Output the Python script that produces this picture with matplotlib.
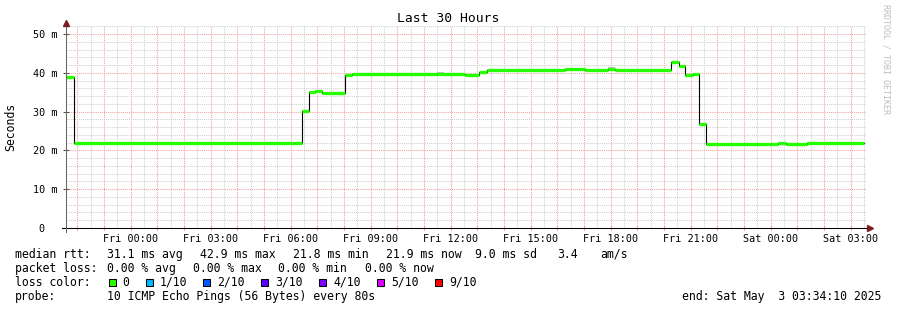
import matplotlib

matplotlib.use("Agg")
import matplotlib.pyplot as plt
import matplotlib.dates as mdates
from matplotlib.patches import Rectangle
from matplotlib.ticker import FixedLocator, FuncFormatter
import pandas as pd

# ---------------------------------------------------------------------------
# Data (median rtt in ms, step segments)
# ---------------------------------------------------------------------------
seg_start = [
    "2025-05-01 21:34", "2025-05-01 21:52", "2025-05-02 06:10", "2025-05-02 06:25",
    "2025-05-02 06:41", "2025-05-02 06:54", "2025-05-02 07:10", "2025-05-02 08:01",
    "2025-05-02 08:18", "2025-05-02 11:29", "2025-05-02 12:32", "2025-05-02 13:03",
    "2025-05-02 13:21", "2025-05-02 16:17", "2025-05-02 17:02", "2025-05-02 17:53",
    "2025-05-02 18:09", "2025-05-02 20:16", "2025-05-02 20:33", "2025-05-02 20:47",
    "2025-05-02 21:05", "2025-05-02 21:19", "2025-05-02 21:35", "2025-05-02 23:58",
    "2025-05-03 00:16", "2025-05-03 00:34", "2025-05-03 01:21",
]
median_ms = [
    39.0, 21.8, 21.9, 30.3,
    35.1, 35.4, 34.9, 39.4,
    39.7, 39.8, 39.5, 40.2,
    40.8, 41.0, 40.8, 41.0,
    40.8, 42.9, 41.9, 39.5,
    39.8, 26.8, 21.7, 21.6,
    22.0, 21.6, 21.8,
]
line_end = "2025-05-03 03:29"

# a little visible smoke above the median
smoke_start = ["2025-05-02 11:29", "2025-05-02 17:53"]
smoke_end = ["2025-05-02 11:44", "2025-05-02 18:09"]
smoke_top = [40.3, 41.4]

t_start = "2025-05-01 21:34:10"
t_end = "2025-05-03 03:34:10"

title = "Last 30 Hours"
rtt_stats = ["31.1 ms avg", "42.9 ms max", "21.8 ms min", "21.9 ms now", "9.0 ms sd", "3.4", "am/s"]
loss_stats = ["0.00 % avg", "0.00 % max", "0.00 % min", "0.00 % now"]
loss_labels = ["0", "1/10", "2/10", "3/10", "4/10", "5/10", "9/10"]
loss_colors = ["#26ff00", "#00b8ff", "#0059ff", "#5e00ff", "#7e00ff", "#dd00ff", "#ff0000"]
probe_text = "10 ICMP Echo Pings (56 Bytes) every 80s"
end_text = "end: Sat May  3 03:34:10 2025"

# ---------------------------------------------------------------------------
# Figure
# ---------------------------------------------------------------------------
W, H = 897, 310
plt.rcParams["font.family"] = ["DejaVu Sans Mono", "DejaVu Sans"]


def fx(x):
    return x / W


def fy(y):
    return 1 - y / H


def num(ts):
    return mdates.date2num(pd.Timestamp(ts).to_pydatetime())


fig = plt.figure(figsize=(W / 100, H / 100), dpi=100)
fig.patch.set_facecolor("white")
ax = fig.add_axes([fx(66), fy(228), 800 / W, 202 / H])
ax.set_facecolor("white")

starts = [num(s) for s in seg_start]
ends = starts[1:] + [num(line_end)]

# smoke
for s0, s1, top in zip(smoke_start, smoke_end, smoke_top):
    x0, x1 = num(s0), num(s1)
    i = max(j for j in range(len(starts)) if starts[j] <= x0 + 1e-9)
    ax.fill_between([x0, x1], [median_ms[i]] * 2, [top] * 2, color="#c4c4c4", lw=0, zorder=2)

# black connector line and green median bars
ax.plot(starts + [ends[-1]], median_ms + [median_ms[-1]], drawstyle="steps-post",
        color="black", lw=0.8, zorder=3)
ax.hlines(median_ms, starts, ends, color=loss_colors[0], lw=2.4, zorder=4)

ax.set_xlim(num(t_start), num(t_end))
ax.set_ylim(0, 52.1)

# grid
ax.xaxis.set_major_locator(mdates.HourLocator(interval=1))
ax.xaxis.set_minor_locator(mdates.MinuteLocator(byminute=[30]))


def hour_fmt(x, pos):
    hrs = round(x * 24)
    if hrs % 3:
        return ""
    return mdates.num2date(hrs / 24).strftime("%a %H:%M")


ax.xaxis.set_major_formatter(FuncFormatter(hour_fmt))
ax.yaxis.set_major_locator(FixedLocator([0, 10, 20, 30, 40, 50]))
ax.yaxis.set_minor_locator(FixedLocator(list(range(2, 53, 2))))
ax.yaxis.set_major_formatter(FuncFormatter(lambda v, p: "0  " if v == 0 else f"{v:.0f} m"))

ax.set_axisbelow(True)
ax.grid(which="major", color="#f3a0a0", linestyle=(0, (1, 1)), lw=0.75)
ax.grid(which="minor", color="#cfcfcf", linestyle=(0, (1, 1)), lw=0.75)

ax.tick_params(axis="x", which="major", length=3, width=0.75, color="#f08080",
               direction="inout", labelsize=7.3, pad=2.5)
ax.tick_params(axis="x", which="minor", length=0)
ax.tick_params(axis="y", which="major", length=4, width=0.75, color="#555555",
               direction="inout", labelsize=7.3, pad=4)
ax.tick_params(axis="y", which="minor", length=0)

for sp in ax.spines.values():
    sp.set_visible(False)

# axis lines with arrows
ax.plot([-4 / 800, 804 / 800], [0, 0], transform=ax.transAxes, color="black",
        lw=0.75, clip_on=False, zorder=5)
ax.plot([0, 0], [-4 / 202, 1.01], transform=ax.transAxes, color="#666666",
        lw=0.75, clip_on=False, zorder=5)
ax.plot([1.0055], [0], transform=ax.transAxes, marker=">", ms=4, color="#7a1f1f",
        clip_on=False, zorder=6)
ax.plot([0.0], [1.015], transform=ax.transAxes, marker="^", ms=4, color="#7a1f1f",
        clip_on=False, zorder=6)

# titles
fig.text(fx(448), fy(19), title, ha="center", va="center", fontsize=9.4)
fig.text(fx(11), fy(127), "Seconds", ha="center", va="center", rotation=90, fontsize=8.3)
fig.text(fx(886), fy(4), "RRDTOOL / TOBI OETIKER", ha="center", va="top",
         rotation=-90, fontsize=6, color="#bdbdbd")

# legend block
fs = 8.3
fig.text(fx(15), fy(254.3), "median rtt:", va="center", fontsize=fs)
for x, s in zip([106.5, 199.5, 292.5, 386, 474.5, 557.5, 600], rtt_stats):
    fig.text(fx(x), fy(254.3), s, va="center", fontsize=fs)

fig.text(fx(15), fy(268.3), "packet loss:", va="center", fontsize=fs)
for x, s in zip([106.5, 192.5, 278.5, 365], loss_stats):
    fig.text(fx(x), fy(268.3), s, va="center", fontsize=fs)

fig.text(fx(15), fy(282.3), "loss color:", va="center", fontsize=fs)
for x, lab, col in zip([108.7, 145.7, 203.3, 261.3, 319.3, 377, 435.3], loss_labels, loss_colors):
    fig.add_artist(Rectangle((fx(x), fy(286)), 7 / W, 7 / H, transform=fig.transFigure,
                             facecolor=col, edgecolor="black", lw=0.75))
    fig.text(fx(x + 14), fy(282.3), lab, va="center", fontsize=fs)

fig.text(fx(15), fy(296.3), "probe:", va="center", fontsize=fs)
fig.text(fx(106.5), fy(296.3), probe_text, va="center", fontsize=fs)
fig.text(fx(881), fy(296.3), end_text, ha="right", va="center", fontsize=fs)

fig.savefig("out.png", dpi=100, facecolor="white")
